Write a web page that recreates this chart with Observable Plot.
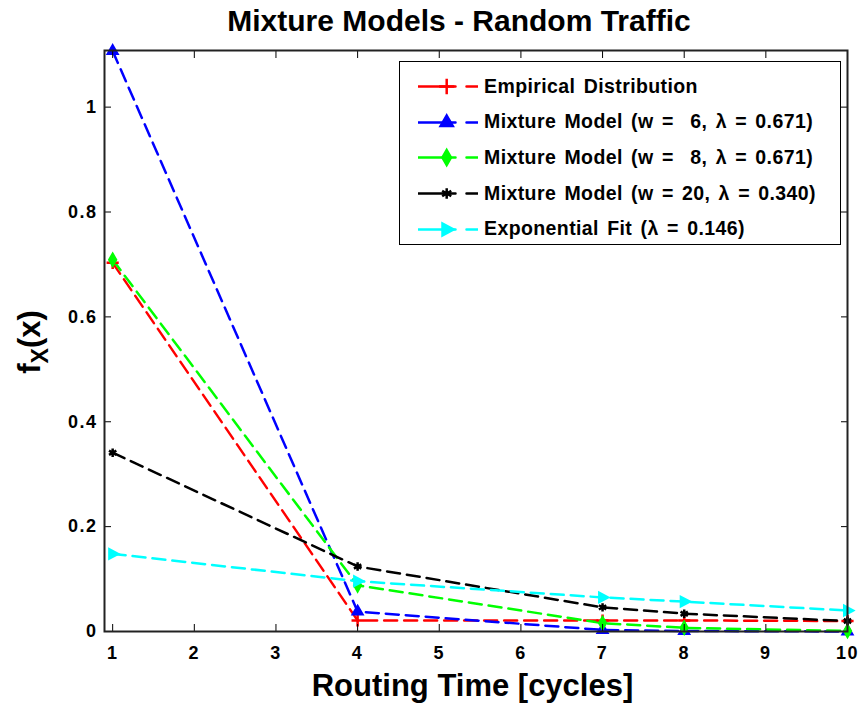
<!DOCTYPE html>
<html>
<head>
<meta charset="utf-8">
<script src="https://cdn.jsdelivr.net/npm/d3@7"></script>
<script src="https://cdn.jsdelivr.net/npm/@observablehq/plot@0.6"></script>
<style>
  html, body { margin: 0; padding: 0; background: #fff; }
  #wrap { position: relative; width: 860px; height: 712px; font-family: "Liberation Sans", Arial, sans-serif; font-weight: bold; color: #000; }
  #wrap svg { display: block; }
  .title { position: absolute; left: 60px; width: 800px; top: 4px; text-align: center; font-size: 30px; margin-left: -1px; }
  .xlabel { position: absolute; left: 104px; width: 743px; top: 668px; text-align: center; font-size: 31px; margin-left: -3px; }
  .ylabel { position: absolute; left: 33px; top: 342px; transform: translate(-50%, -50%) rotate(-90deg); font-size: 31px; white-space: nowrap; }
  .ylabel sub { font-size: 23px; vertical-align: -8px; }
  .legend { position: absolute; left: 399px; top: 61px; width: 442px; height: 184px; border: 1.5px solid #000; background: #fff; box-sizing: border-box; }
  .legend .row { position: absolute; left: 18px; height: 30px; display: flex; align-items: center; font-size: 19.5px; letter-spacing: 0.4px; word-spacing: 2.5px; white-space: pre; }
  .legend svg { margin-right: 6px; }
</style>
</head>
<body>
<div id="wrap"></div>
<script>
// Routing time samples (cycles) and the fitted densities at each one
const times = [1, 4, 7, 8, 10];
const empirical = [0.703, 0.021, 0.021, 0.021, 0.020];
const mixW6 = [1.107, 0.038, 0.003, 0.001, 0.000];
const mixW8 = [0.709, 0.088, 0.016, 0.007, 0.001];
const mixW20 = [0.341, 0.124, 0.046, 0.034, 0.020];
const expFit = [0.148, 0.096, 0.065, 0.057, 0.040];

const seriesNames = [
  "Empirical Distribution",
  "Mixture Model (w =  6, \u03bb = 0.671)",
  "Mixture Model (w =  8, \u03bb = 0.671)",
  "Mixture Model (w = 20, \u03bb = 0.340)",
  "Exponential Fit (\u03bb = 0.146)"
];
const seriesValues = [empirical, mixW6, mixW8, mixW20, expFit];
const seriesColors = ["#ff0000", "#0000ff", "#00ff00", "#000000", "#00ffff"];

const xTicks = [1, 2, 3, 4, 5, 6, 7, 8, 9, 10];
const yTicks = [0, 0.2, 0.4, 0.6, 0.8, 1];

// right-pointing triangle marker
const triangleRight = {
  draw(context, size) {
    const r = Math.sqrt(size / 1.3);
    context.moveTo(r, 0);
    context.lineTo(-r * 0.6, r * 0.85);
    context.lineTo(-r * 0.6, -r * 0.85);
    context.closePath();
  }
};
const markers = [
  {symbol: "plus", fill: false, r: 4},
  {symbol: "triangle", fill: true, r: 3.5},
  {symbol: "diamond", fill: true, r: 3.5},
  {symbol: "asterisk", fill: false, r: 4},
  {symbol: triangleRight, fill: true, r: 3.5}
];

const rows = [];
seriesNames.forEach((name, i) => {
  times.forEach((t, j) => rows.push({series: name, idx: i, time: t, value: seriesValues[i][j]}));
});

const lineMarks = [];
const dotMarks = [];
seriesNames.forEach((name, i) => {
  const data = rows.filter(d => d.idx === i);
  lineMarks.push(Plot.line(data, {
    x: "time", y: "value", stroke: seriesColors[i], strokeWidth: 2.5,
    strokeDasharray: "13,7"
  }));
  const m = markers[i];
  dotMarks.push(Plot.dot(data, {
    x: "time", y: "value", symbol: () => m.symbol, r: m.r,
    stroke: seriesColors[i], strokeWidth: 2.5,
    fill: m.fill ? seriesColors[i] : "none"
  }));
});

const chart = Plot.plot({
  width: 860,
  height: 712,
  marginLeft: 104,
  marginRight: 13,
  marginTop: 50,
  marginBottom: 81,
  style: {fontFamily: "Liberation Sans, Arial, sans-serif", fontWeight: "bold", fontSize: "18px", color: "#000", background: "#fff", letterSpacing: "1.5px"},
  x: {domain: [0.9, 10]},
  y: {domain: [0, 1.108]},
  symbol: {type: "identity"},
  marks: [
    ...lineMarks,
    ...dotMarks,
    Plot.axisX(xTicks, {anchor: "bottom", tickSize: 0, tickPadding: 15, label: null, tickFormat: d => String(d)}),
    Plot.axisX(xTicks, {anchor: "bottom", tickSize: -7, tickFormat: () => "", label: null}),
    Plot.axisX(xTicks, {anchor: "top", tickSize: -7, tickFormat: () => "", label: null}),
    Plot.axisY(yTicks, {anchor: "left", tickSize: 0, tickPadding: 7, label: null, tickFormat: d => String(d)}),
    Plot.axisY(yTicks, {anchor: "left", tickSize: -7, tickFormat: () => "", label: null}),
    Plot.axisY(yTicks, {anchor: "right", tickSize: -7, tickFormat: () => "", label: null}),
    Plot.frame({stroke: "#222", strokeWidth: 2})
  ]
});

const wrap = document.getElementById("wrap");
wrap.appendChild(chart);

const title = document.createElement("div");
title.className = "title";
title.textContent = "Mixture Models - Random Traffic";
wrap.appendChild(title);

const xl = document.createElement("div");
xl.className = "xlabel";
xl.textContent = "Routing Time [cycles]";
wrap.appendChild(xl);

const yl = document.createElement("div");
yl.className = "ylabel";
yl.innerHTML = "f<sub>X</sub>(x)";
wrap.appendChild(yl);

// legend box with one sample line and marker per series
const legend = document.createElement("div");
legend.className = "legend";
seriesNames.forEach((name, i) => {
  const row = document.createElement("div");
  row.className = "row";
  row.style.top = (9 + i * 35.7) + "px";
  const sample = Plot.plot({
    width: 60, height: 30, margin: 0,
    x: {domain: [0, 1], axis: null},
    y: {domain: [0, 1], axis: null},
    symbol: {type: "identity"},
    marks: [
      Plot.line([[0, 0.5], [1, 0.5]], {stroke: seriesColors[i], strokeWidth: 2.5, strokeDasharray: "37,11,12"}),
      Plot.dot([[0.47, 0.5]], {symbol: () => markers[i].symbol, r: markers[i].r + 1, stroke: seriesColors[i], strokeWidth: 2.5, fill: markers[i].fill ? seriesColors[i] : "none"})
    ]
  });
  row.appendChild(sample);
  const label = document.createElement("span");
  label.textContent = name;
  row.appendChild(label);
  legend.appendChild(row);
});
wrap.appendChild(legend);
</script>
</body>
</html>
